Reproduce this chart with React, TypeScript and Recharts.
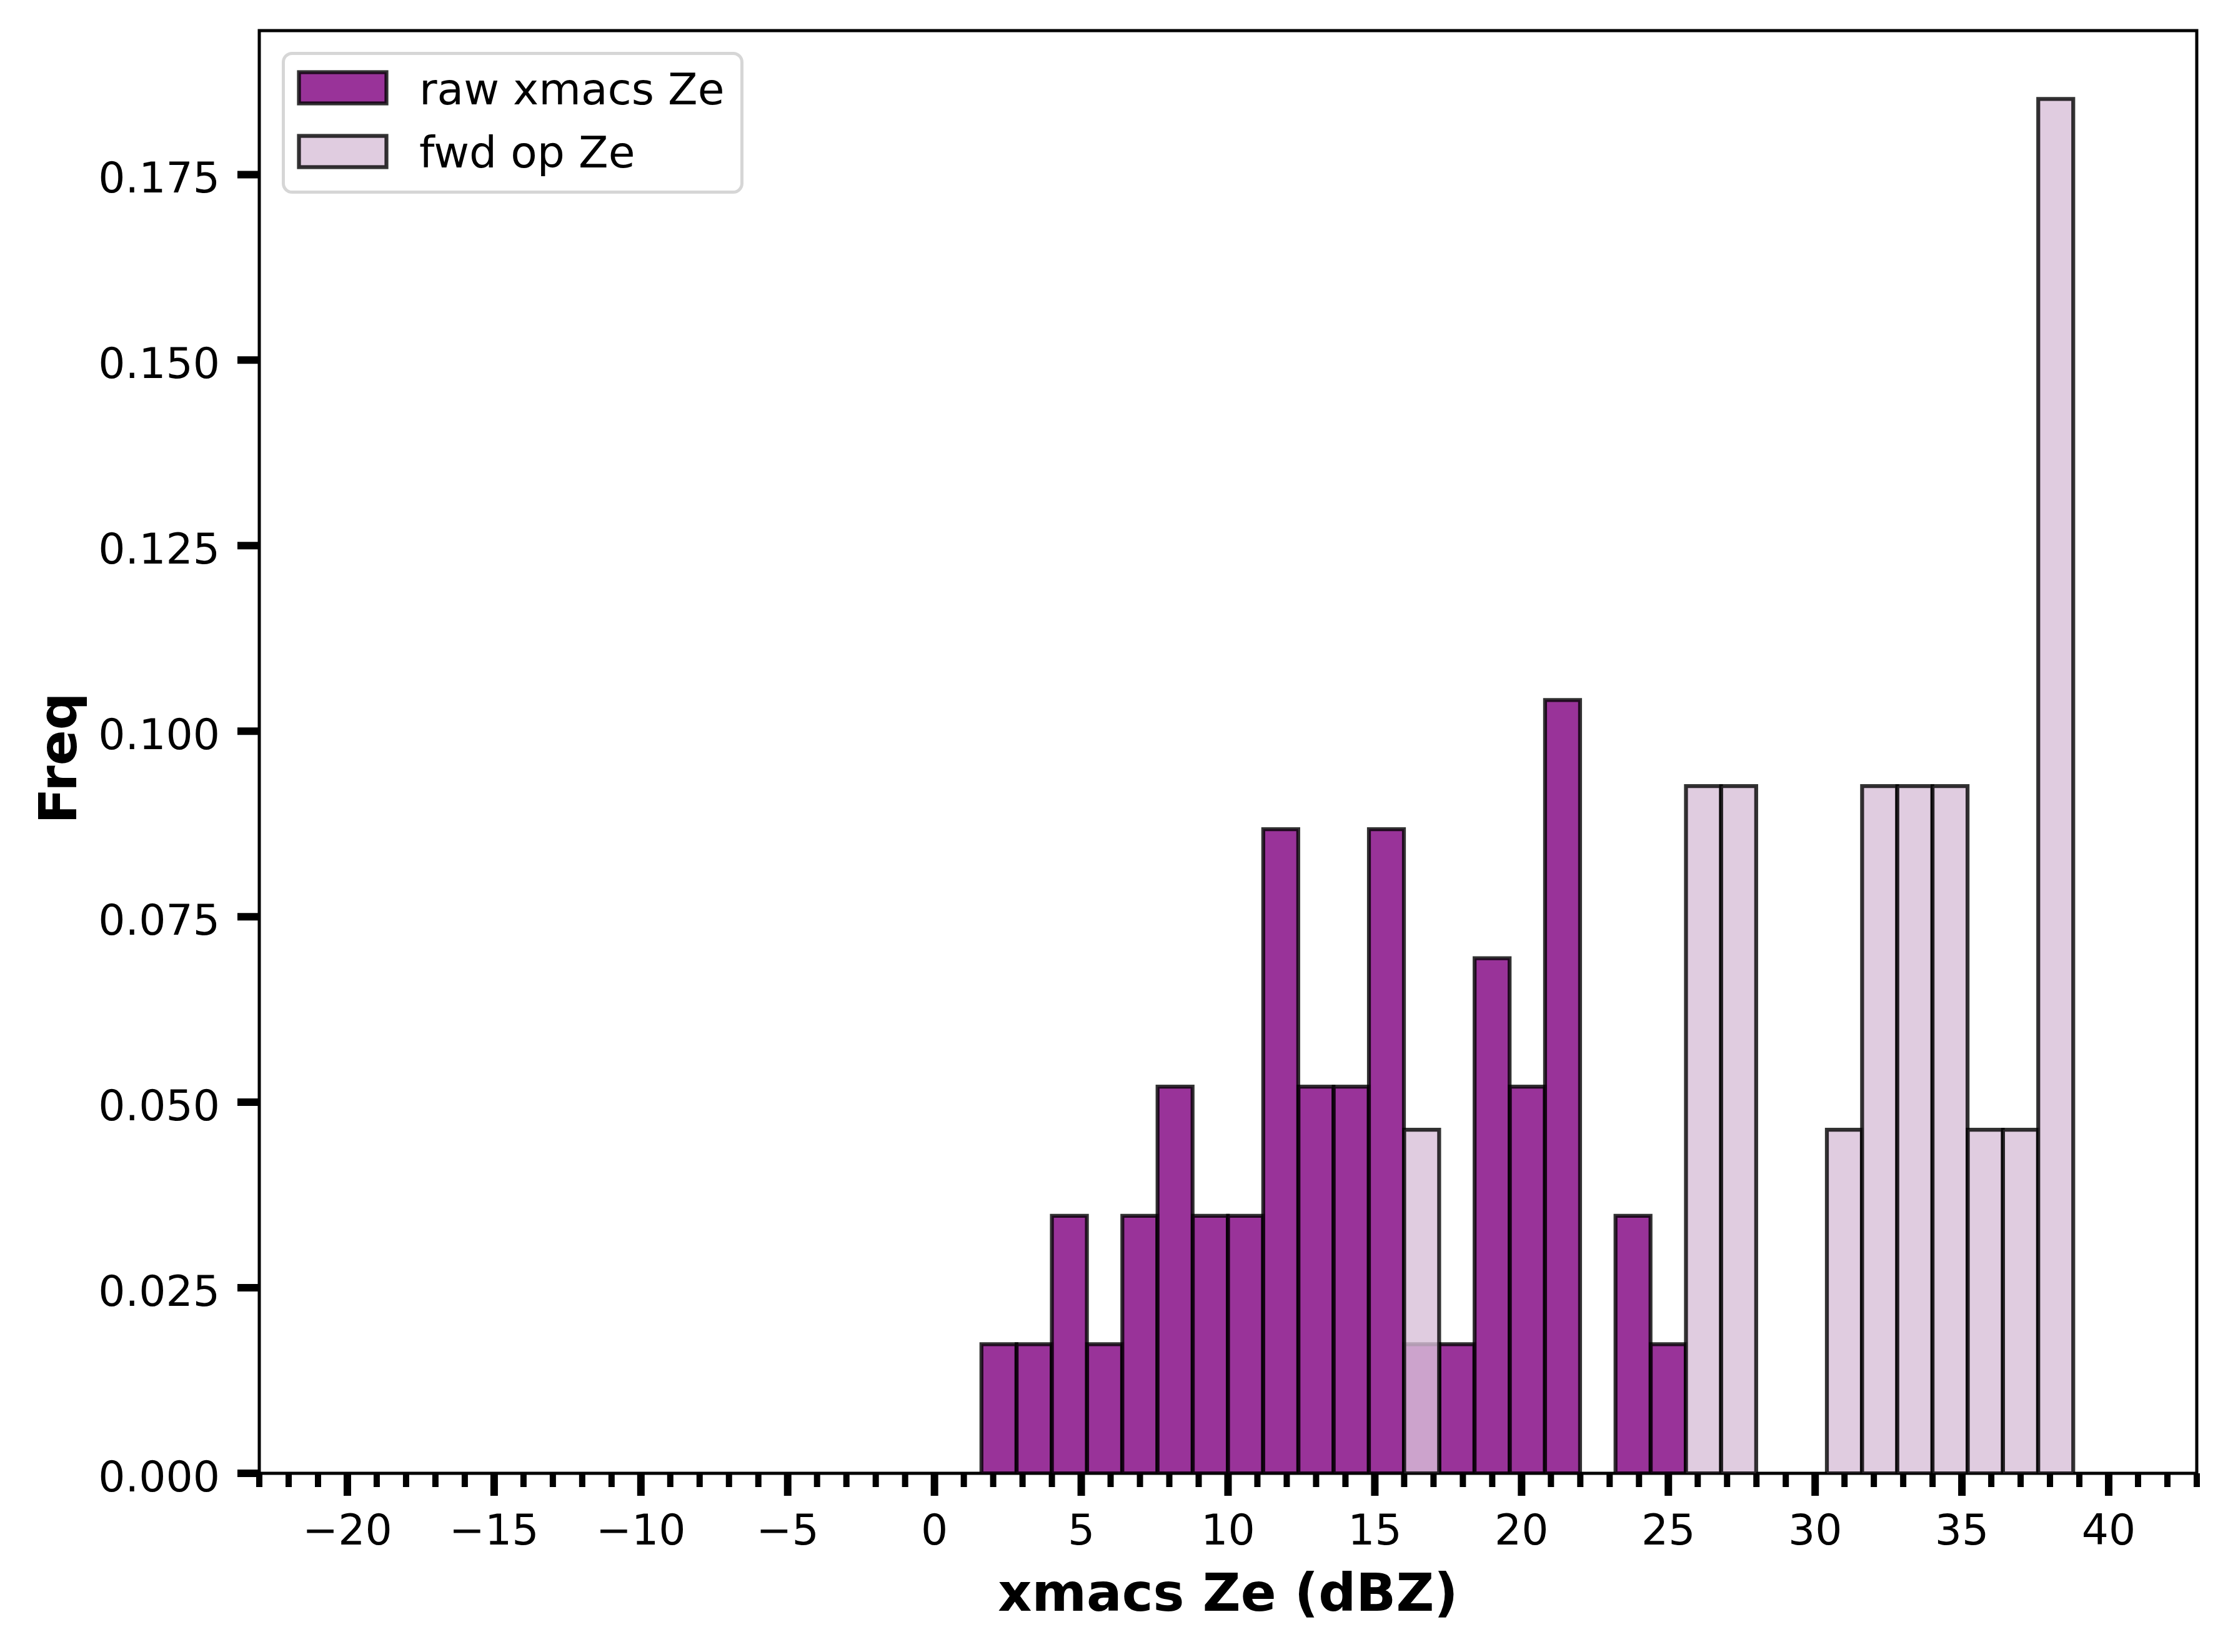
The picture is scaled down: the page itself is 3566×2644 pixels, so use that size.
import React from 'react';
import { ComposedChart, Bar, XAxis, YAxis, Legend, ReferenceArea } from 'recharts';

// Histogram bin centres (bin width 1.2 dBZ)
const BIN_CENTERS = [
  2.2, 3.4, 4.6, 5.8, 7.0, 8.2, 9.4, 10.6, 11.8, 13.0, 14.2, 15.4, 16.6, 17.8, 19.0, 20.2,
  21.4, 22.6, 23.8, 25.0, 26.2, 27.4, 28.6, 29.8, 31.0, 32.2, 33.4, 34.6, 35.8, 37.0, 38.2,
];
// raw xmacs Ze (density)
const RAW_XMACS = [
  0.0174, 0.0174, 0.0347, 0.0174, 0.0347, 0.0521, 0.0347, 0.0347, 0.0868, 0.0521, 0.0521, 0.0868,
  0.0174, 0.0174, 0.0694, 0.0521, 0.1042, 0, 0.0347, 0.0174, 0, 0, 0, 0, 0, 0, 0, 0, 0, 0, 0,
];
// fwd op Ze (density)
const FWD_OP = [
  0, 0, 0, 0, 0, 0, 0, 0, 0, 0, 0, 0, 0.0463, 0, 0, 0, 0, 0, 0, 0, 0.0926, 0.0926, 0, 0, 0.0463,
  0.0926, 0.0926, 0.0926, 0.0463, 0.0463, 0.1852,
];

const SERIES_NAMES = ['raw xmacs Ze', 'fwd op Ze'];
const SERIES_COLORS = ['#800080', '#D8BFD8'];

const X_MAJOR_TICKS = [-20, -15, -10, -5, 0, 5, 10, 15, 20, 25, 30, 35, 40];
const X_MINOR_TICKS = [
  -23, -22, -21, -19, -18, -17, -16, -14, -13, -12, -11, -9, -8, -7, -6, -4, -3, -2, -1, 1, 2, 3, 4,
  6, 7, 8, 9, 11, 12, 13, 14, 16, 17, 18, 19, 21, 22, 23, 24, 26, 27, 28, 29, 31, 32, 33, 34, 36,
  37, 38, 39, 41, 42, 43,
];
const X_ALL_TICKS = [...X_MINOR_TICKS, ...X_MAJOR_TICKS].sort((a, b) => a - b);
const Y_TICKS = [0, 0.025, 0.05, 0.075, 0.1, 0.125, 0.15, 0.175];
const X_DOMAIN: [number, number] = [-23, 43];
const Y_DOMAIN: [number, number] = [0, 0.1944];

const X_LABEL = 'xmacs Ze (dBZ)';
const Y_LABEL = 'Freq';

const FONT = 'DejaVu Sans';
const X_TICK_SIZE = 36;
const X_TICK_MARGIN = 30;
const EDGE_W = 6.25;

const data = BIN_CENTERS.map((x, i) => ({ x, raw: RAW_XMACS[i], fwd: FWD_OP[i] }));

const fmtX = (v: number) => (v < 0 ? '\u2212' + Math.abs(v) : String(v));
const fmtY = (v: number) => v.toFixed(3);

const XTick = (props: any) => {
  const { x, y, payload } = props;
  const v = payload && payload.value;
  const isMajor = X_MAJOR_TICKS.indexOf(v) >= 0;
  const axisY = y - X_TICK_SIZE - X_TICK_MARGIN;
  const len = isMajor ? X_TICK_SIZE : 22;
  return (
    <g>
      <line
        x1={x}
        x2={x}
        y1={axisY}
        y2={axisY + len}
        stroke="#000"
        strokeWidth={isMajor ? 12 : 10}
      />
      {isMajor ? (
        <text
          x={x}
          y={y}
          dy="0.71em"
          textAnchor="middle"
          fontFamily={FONT}
          fontSize={68}
          fill="#000"
        >
          {fmtX(v)}
        </text>
      ) : null}
    </g>
  );
};

const YTick = (props: any) => {
  const { x, y, payload } = props;
  return (
    <text
      x={x}
      y={y}
      dy="0.42em"
      textAnchor="end"
      fontFamily={FONT}
      fontSize={68}
      fill="#000"
    >
      {fmtY(payload.value)}
    </text>
  );
};

const XLabel = (props: any) => {
  const vb = props.viewBox || {};
  return (
    <text
      x={vb.x + vb.width / 2}
      y={vb.y + 220}
      textAnchor="middle"
      fontFamily={FONT}
      fontWeight="bold"
      fontSize={84}
      fill="#000"
    >
      {X_LABEL}
    </text>
  );
};

const YLabel = (props: any) => {
  const vb = props.viewBox || {};
  const x = vb.x + 114;
  const y = vb.y + vb.height / 2 + 10;
  return (
    <text
      x={x}
      y={y}
      transform={`rotate(-90, ${x}, ${y})`}
      textAnchor="middle"
      fontFamily={FONT}
      fontWeight="bold"
      fontSize={84}
      fill="#000"
    >
      {Y_LABEL}
    </text>
  );
};

const LegendBox = (props: any) => {
  const payload = props.payload && props.payload.length ? props.payload : [];
  const items = SERIES_NAMES.map((name, i) => {
    const p = payload.find((q: any) => q.value === name);
    return { name, color: (p && p.color) || SERIES_COLORS[i] };
  });
  return (
    <svg width={745} height={232} style={{ display: 'block' }}>
      <rect
        x={2.5}
        y={2.5}
        width={734}
        height={222}
        rx={14}
        ry={14}
        fill="#fff"
        fillOpacity={0.8}
        stroke="#d6d6d6"
        strokeWidth={5}
      />
      {items.map((it, i) => (
        <g key={it.name}>
          <rect
            x={27.5}
            y={32.5 + i * 102}
            width={140}
            height={50}
            fill={it.color}
            fillOpacity={0.8}
            stroke="#000"
            strokeOpacity={0.8}
            strokeWidth={EDGE_W}
          />
          <text x={220} y={84 + i * 101} fontFamily={FONT} fontSize={69.5} fill="#000">
            {it.name}
          </text>
        </g>
      ))}
    </svg>
  );
};

export default function App() {
  return (
    <div style={{ width: 3550, height: 2628 }}>
      <ComposedChart
        width={3550}
        height={2628}
        data={data}
        margin={{ top: 41, right: 42, bottom: 0, left: 0 }}
        barCategoryGap={0}
        barGap={0}
      >
        <XAxis
          xAxisId="main"
          dataKey="x"
          type="number"
          domain={X_DOMAIN}
          allowDataOverflow
          ticks={X_ALL_TICKS}
          interval={0}
          height={278}
          axisLine={false}
          tickSize={X_TICK_SIZE}
          tickMargin={X_TICK_MARGIN}
          tickLine={false}
          tick={XTick}
          label={XLabel}
        />
        <XAxis
          xAxisId="overlay"
          dataKey="x"
          type="number"
          domain={X_DOMAIN}
          allowDataOverflow
          hide
        />
        <YAxis
          type="number"
          domain={Y_DOMAIN}
          allowDataOverflow
          ticks={Y_TICKS}
          interval={0}
          width={407}
          axisLine={false}
          tickSize={35}
          tickMargin={28}
          tickLine={{ stroke: '#000', strokeWidth: 12 }}
          tick={YTick}
          label={YLabel}
        />
        <Bar
          xAxisId="main"
          dataKey="raw"
          name={SERIES_NAMES[0]}
          fill={SERIES_COLORS[0]}
          fillOpacity={0.8}
          stroke="#000"
          strokeOpacity={0.8}
          strokeWidth={EDGE_W}
          isAnimationActive={false}
        />
        <Bar
          xAxisId="overlay"
          dataKey="fwd"
          name={SERIES_NAMES[1]}
          fill={SERIES_COLORS[1]}
          fillOpacity={0.8}
          stroke="#000"
          strokeOpacity={0.8}
          strokeWidth={EDGE_W}
          isAnimationActive={false}
        />
        <ReferenceArea
          xAxisId="main"
          x1={X_DOMAIN[0]}
          x2={X_DOMAIN[1]}
          y1={Y_DOMAIN[0]}
          y2={Y_DOMAIN[1]}
          fill="none"
          fillOpacity={0}
          stroke="#000"
          strokeWidth={5}
          ifOverflow="visible"
        />
        <Legend
          layout="horizontal"
          verticalAlign="middle"
          align="center"
          content={LegendBox}
          wrapperStyle={{ position: 'absolute', left: 443, top: 75, width: 745, height: 232 }}
        />
      </ComposedChart>
    </div>
  );
}
